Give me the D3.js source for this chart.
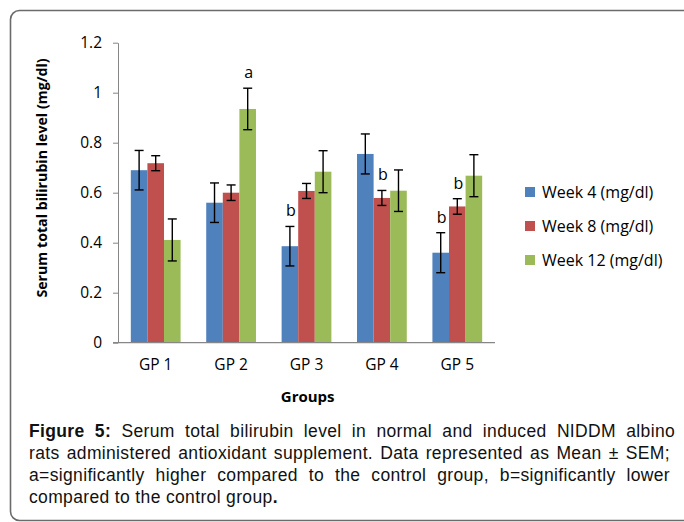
<!DOCTYPE html>
<html>
<head>
<meta charset="utf-8">
<style>
  body{margin:0;background:#fff;}
  svg{display:block;}
</style>
<script src="https://cdn.jsdelivr.net/npm/d3@7"></script>
</head>
<body>
<svg id="chart" width="684" height="522"></svg>
<script>
// values
var groups = ["GP 1", "GP 2", "GP 3", "GP 4", "GP 5"];
var seriesNames = ["Week 4 (mg/dl)", "Week 8 (mg/dl)", "Week 12 (mg/dl)"];
var week4 = [0.69, 0.56, 0.386, 0.755, 0.36];
var week8 = [0.718, 0.60, 0.607, 0.579, 0.545];
var week12 = [0.411, 0.935, 0.684, 0.608, 0.668];
var sem4 = [0.079, 0.079, 0.079, 0.08, 0.08];
var sem8 = [0.03, 0.031, 0.03, 0.03, 0.031];
var sem12 = [0.084, 0.083, 0.084, 0.083, 0.084];
var yTicks = [0, 0.2, 0.4, 0.6, 0.8, 1, 1.2];
// significance letters: [group index, series index, letter]
var marks = [[1, 2, "a"], [2, 0, "b"], [3, 1, "b"], [4, 0, "b"], [4, 1, "b"]];
var caption = [
  "Serum total bilirubin level in normal and induced NIDDM albino",
  "rats administered antioxidant supplement. Data represented as Mean \u00b1 SEM;",
  "a=significantly higher compared to the control group, b=significantly lower",
  "compared to the control group"
];

var colors = ["#4f81bd", "#c0504d", "#9bbb59"];
var values = [week4, week8, week12], sems = [sem4, sem8, sem12];
var font = "'Open Sans', Lato, sans-serif";

var svg = d3.select("#chart");

// frame
svg.append("rect")
  .attr("x", 10.5).attr("y", 10.5)
  .attr("width", 720).attr("height", 510)
  .attr("rx", 9)
  .attr("fill", "none").attr("stroke", "#6b6b6b").attr("stroke-width", 1.6);

var x = d3.scaleBand().domain(groups).range([118, 495]).paddingInner(0.34).paddingOuter(0.17);
var xs = d3.scaleBand().domain(d3.range(3)).range([0, x.bandwidth()]);
var y = d3.scaleLinear().domain([0, 1.2]).range([342.7, 42.7]);

// y axis
var ya = svg.append("g").attr("transform", "translate(118,0)")
  .call(d3.axisLeft(y).tickValues(yTicks).tickSize(5).tickSizeOuter(0).tickPadding(11)
    .tickFormat(function(d){ return d3.format("")(+d.toFixed(1)); }));
ya.select(".domain").attr("stroke", "#868686");
ya.selectAll(".tick line").attr("stroke", "#868686");
ya.selectAll("text").attr("font-family", font).attr("font-size", 15.5).attr("fill", "#000");

// bars
var g = svg.append("g");
groups.forEach(function(gr, i){
  values.forEach(function(vals, s){
    var bx = x(gr) + xs(s), w = xs.bandwidth();
    g.append("rect")
      .attr("x", bx).attr("y", y(vals[i]))
      .attr("width", w).attr("height", y(0) - y(vals[i]))
      .attr("fill", colors[s]);
  });
});

// x axis
svg.append("line")
  .attr("x1", 113).attr("x2", 495)
  .attr("y1", y(0)).attr("y2", y(0))
  .attr("stroke", "#868686").attr("stroke-width", 1.3);
var xa = svg.append("g").attr("transform", "translate(0," + y(0) + ")")
  .call(d3.axisBottom(x).tickSize(0).tickPadding(16));
xa.select(".domain").remove();
xa.selectAll("text").attr("font-family", font).attr("font-size", 15.5).attr("fill", "#000");

// error bars
var eb = svg.append("g").attr("stroke", "#000").attr("stroke-width", 1.4);
groups.forEach(function(gr, i){
  values.forEach(function(vals, s){
    var cx = x(gr) + xs(s) + xs.bandwidth() / 2;
    var hi = y(vals[i] + sems[s][i]), lo = y(vals[i] - sems[s][i]);
    eb.append("line").attr("x1", cx).attr("x2", cx).attr("y1", hi).attr("y2", lo);
    eb.append("line").attr("x1", cx - 4.5).attr("x2", cx + 4.5).attr("y1", hi).attr("y2", hi);
    eb.append("line").attr("x1", cx - 4.5).attr("x2", cx + 4.5).attr("y1", lo).attr("y2", lo);
  });
});

// significance letters
marks.forEach(function(m){
  var i = m[0], s = m[1];
  svg.append("text")
    .attr("x", x(groups[i]) + xs(s) + xs.bandwidth() / 2 + 1)
    .attr("y", y(values[s][i] + sems[s][i]) - 10)
    .attr("text-anchor", "middle")
    .attr("font-family", font).attr("font-size", 16)
    .text(m[2]);
});

// axis titles
svg.append("text")
  .attr("transform", "translate(47,178) rotate(-90)")
  .attr("text-anchor", "middle")
  .attr("font-family", font).attr("font-size", 14.2).attr("font-weight", "bold")
  .text("Serum total bilirubin level (mg/dl)");
svg.append("text")
  .attr("x", 307.7).attr("y", 402)
  .attr("text-anchor", "middle")
  .attr("font-family", font).attr("font-size", 15).attr("font-weight", "bold")
  .text("Groups");

// legend
var lg = svg.append("g");
seriesNames.forEach(function(n, s){
  var ly = 192 + s * 34;
  lg.append("rect").attr("x", 525).attr("y", ly - 5).attr("width", 10).attr("height", 10).attr("fill", colors[s]);
  lg.append("text").attr("x", 542).attr("y", ly + 5.5)
    .attr("font-family", font).attr("font-size", 16)
    .text(n);
});

// caption, justified by word spacing
var capFont = "'Liberation Sans', Arial, sans-serif";
caption.forEach(function(line, k){
  var t = svg.append("text")
    .attr("x", 29).attr("y", 437 + k * 22)
    .attr("font-family", capFont).attr("font-size", 17.5)
    .attr("letter-spacing", 0.35).attr("fill", "#111");
  if (k === 0) {
    t.append("tspan").attr("font-weight", "bold").text("Figure 5:");
    t.append("tspan").text(" " + line);
  } else {
    t.append("tspan").text(line);
  }
  if (k === caption.length - 1) {
    t.append("tspan").attr("font-weight", "bold").text(".");
  } else {
    var natural = t.node().getComputedTextLength();
    var spaces = (line.match(/ /g) || []).length + (k === 0 ? 1 : 0);
    t.attr("word-spacing", (641 - natural) / spaces);
  }
});
</script>
</body>
</html>
